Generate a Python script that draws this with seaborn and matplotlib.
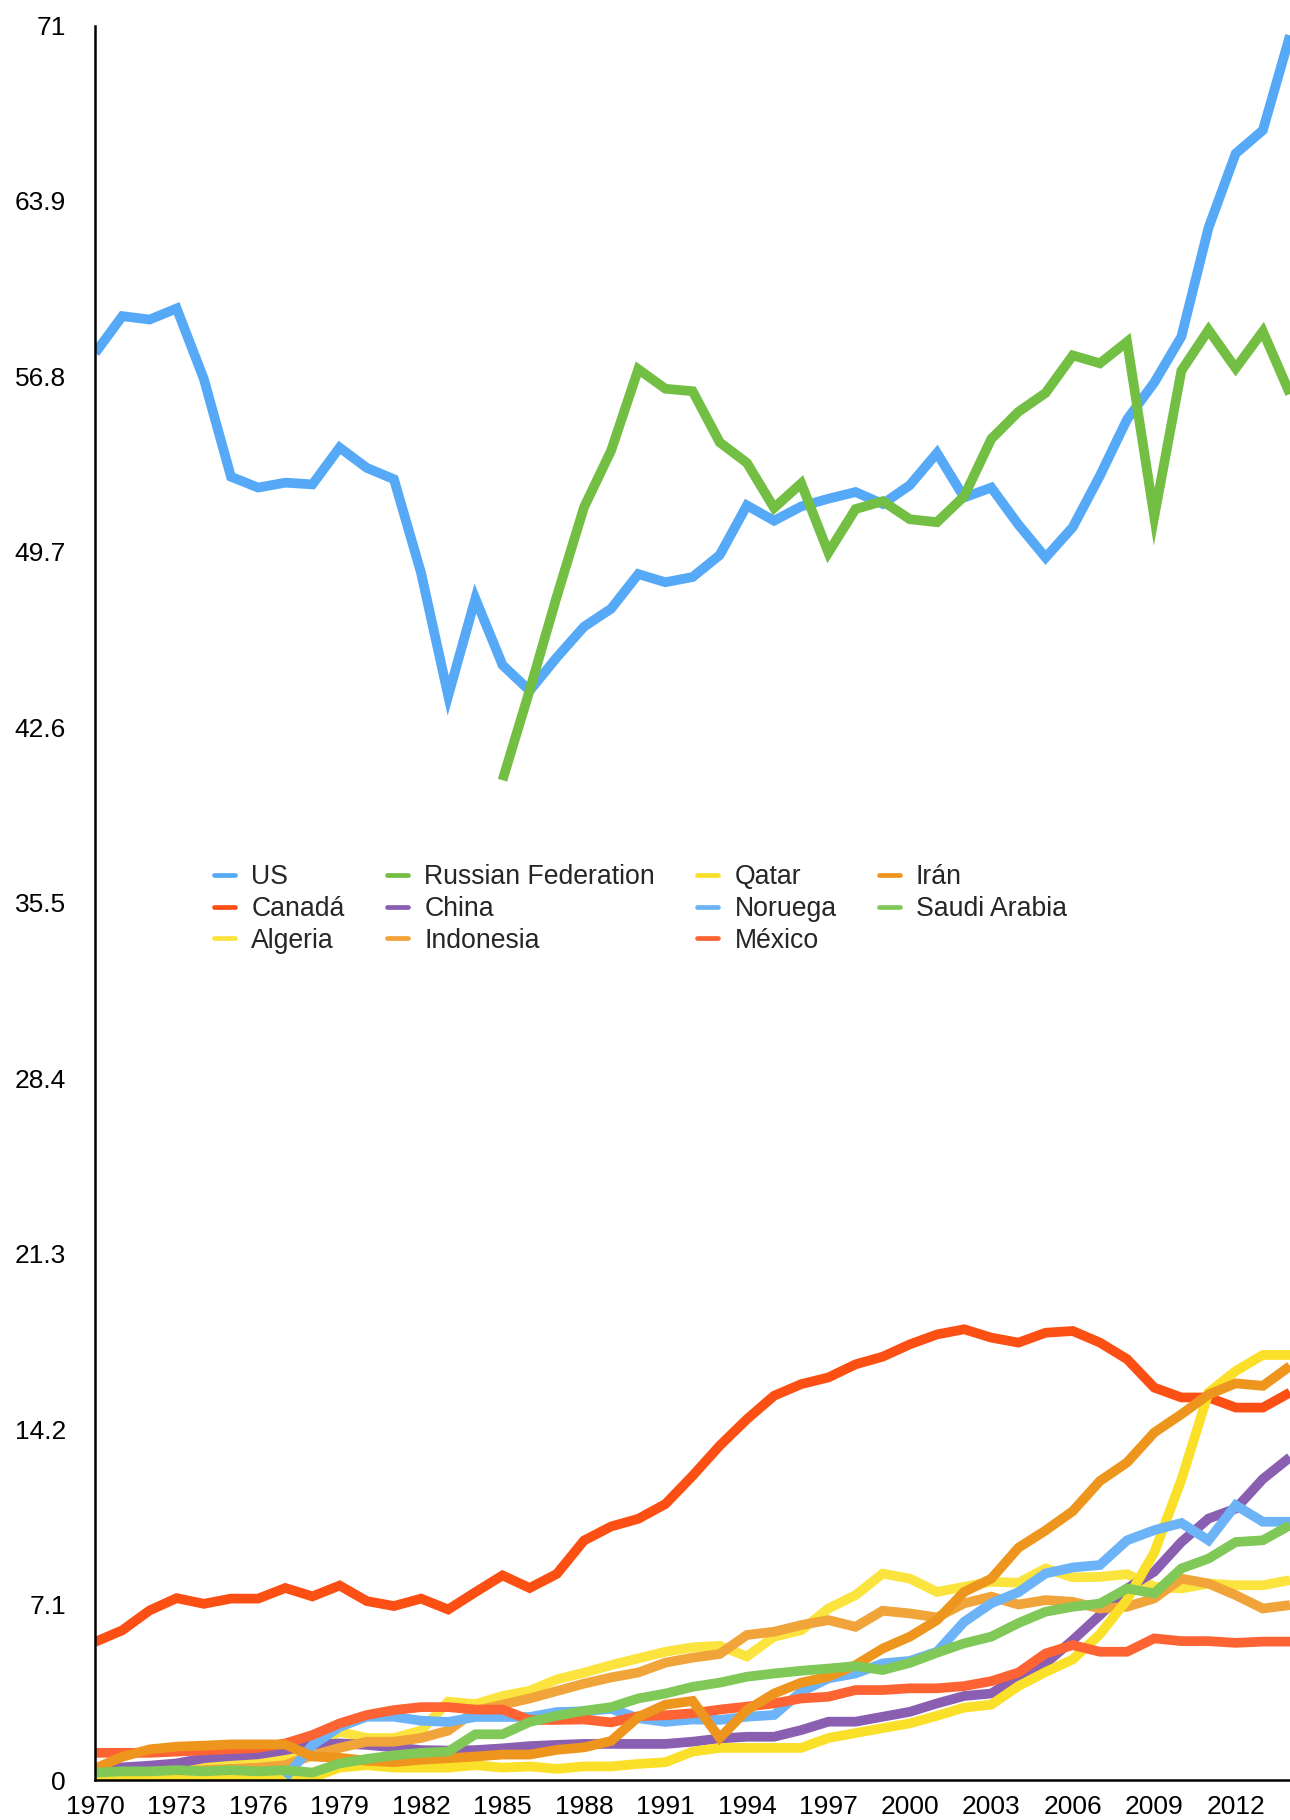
import numpy as np
import pandas as pd
import matplotlib
matplotlib.use("Agg")
import matplotlib.pyplot as plt
from matplotlib.lines import Line2D
import seaborn as sns

years = list(range(1970, 2015))
nan = np.nan

us = [57.75, 59.24, 59.1, 59.55, 56.7, 52.74, 52.3, 52.5, 52.43, 53.92,
      53.1, 52.64, 48.85, 43.88, 47.81, 45.12, 44.08, 45.43, 46.67, 47.4,
      48.8, 48.47, 48.68, 49.57, 51.58, 50.96, 51.54, 51.85, 52.12, 51.64,
      52.4, 53.7, 51.9, 52.3, 50.8, 49.47, 50.7, 52.78, 55.06, 56.55,
      58.41, 62.82, 65.82, 66.76, 70.6]
canada = [5.59, 6.06, 6.86, 7.36, 7.13, 7.34, 7.34, 7.77, 7.43, 7.87,
          7.24, 7.04, 7.34, 6.9, 7.6, 8.28, 7.77, 8.34, 9.69, 10.26,
          10.57, 11.17, 12.31, 13.53, 14.6, 15.55, 16.02, 16.29, 16.82, 17.13,
          17.63, 18.03, 18.24, 17.9, 17.7, 18.1, 18.17, 17.7, 17.03, 15.88,
          15.48, 15.48, 15.07, 15.07, 15.68]
algeria = [0.1, 0.15, 0.3, 0.4, 0.5, 0.6, 0.7, 0.9, 1.4, 1.95,
           1.7, 1.7, 2.0, 3.17, 3.07, 3.4, 3.61, 4.07, 4.34, 4.65,
           4.92, 5.19, 5.37, 5.43, 5.0, 5.8, 6.06, 6.94, 7.48, 8.35,
           8.15, 7.61, 7.82, 8.02, 7.98, 8.56, 8.2, 8.22, 8.33, 7.82,
           7.75, 7.95, 7.88, 7.88, 8.09]
russia = [nan] * 15 + [40.46, 44.1, 47.9, 51.5, 53.8,
                       57.09, 56.3, 56.2, 54.13, 53.3, 51.48, 52.47, 49.67, 51.43, 51.75,
                       51.02, 50.9, 51.95, 54.27, 55.37, 56.13, 57.65, 57.33, 58.2, 51.12,
                       57.03, 58.68, 57.13, 58.62, 56.09]
china = [0.4, 0.51, 0.58, 0.67, 0.88, 0.97, 1.04, 1.21, 1.42, 1.48,
         1.42, 1.32, 1.21, 1.19, 1.21, 1.28, 1.37, 1.42, 1.46, 1.46,
         1.46, 1.46, 1.55, 1.68, 1.75, 1.75, 2.02, 2.36, 2.36, 2.56,
         2.76, 3.1, 3.4, 3.5, 4.2, 4.72, 5.66, 6.67, 7.75, 8.43,
         9.63, 10.58, 10.98, 12.18, 13.06]
indonesia = [0.2, 0.25, 0.3, 0.35, 0.4, 0.45, 0.5, 0.6, 1.0, 1.3,
             1.55, 1.55, 1.7, 2.0, 2.8, 3.05, 3.3, 3.6, 3.9, 4.15,
             4.35, 4.75, 4.95, 5.1, 5.87, 6.0, 6.27, 6.47, 6.2, 6.85,
             6.74, 6.58, 7.15, 7.42, 7.1, 7.28, 7.21, 6.94, 7.01, 7.35,
             8.15, 7.95, 7.48, 6.94, 7.08]
qatar = [0.15, 0.15, 0.15, 0.2, 0.15, 0.2, 0.15, 0.2, 0.1, 0.5,
         0.6, 0.5, 0.5, 0.5, 0.6, 0.5, 0.55, 0.45, 0.55, 0.55,
         0.65, 0.72, 1.15, 1.3, 1.3, 1.3, 1.3, 1.7, 1.9, 2.1,
         2.29, 2.6, 2.93, 3.05, 3.8, 4.37, 4.88, 5.9, 7.3, 9.2,
         12.15, 15.68, 16.55, 17.2, 17.2]
noruega = [nan] * 7 + [0.1, 1.41, 2.15,
                       2.56, 2.56, 2.4, 2.35, 2.55, 2.55, 2.55, 2.75, 2.78, 2.88,
                       2.5, 2.35, 2.45, 2.43, 2.56, 2.63, 3.57, 4.11, 4.31, 4.72,
                       4.82, 5.19, 6.4, 7.15, 7.6, 8.36, 8.6, 8.7, 9.7, 10.11,
                       10.4, 9.7, 11.12, 10.45, 10.45]
mexico = [1.1, 1.1, 1.1, 1.15, 1.2, 1.25, 1.3, 1.48, 1.82, 2.29,
          2.63, 2.83, 2.95, 2.95, 2.85, 2.85, 2.43, 2.43, 2.45, 2.33,
          2.58, 2.62, 2.7, 2.85, 2.97, 3.1, 3.3, 3.37, 3.64, 3.64,
          3.71, 3.71, 3.8, 4.0, 4.35, 5.12, 5.46, 5.19, 5.19, 5.73,
          5.62, 5.62, 5.55, 5.6, 5.6]
iran = [0.47, 0.94, 1.24, 1.35, 1.39, 1.44, 1.44, 1.44, 0.95, 0.9,
        0.78, 0.72, 0.82, 0.88, 0.95, 1.03, 1.03, 1.22, 1.32, 1.58,
        2.55, 3.05, 3.2, 1.7, 2.83, 3.5, 3.94, 4.18, 4.65, 5.32,
        5.8, 6.47, 7.61, 8.15, 9.4, 10.1, 10.88, 12.1, 12.85, 14.06,
        14.8, 15.6, 16.05, 15.95, 16.75]
saudi = [0.3, 0.35, 0.35, 0.4, 0.35, 0.4, 0.35, 0.4, 0.3, 0.67,
         0.85, 1.0, 1.1, 1.15, 1.85, 1.85, 2.35, 2.6, 2.8, 2.95,
         3.3, 3.5, 3.77, 3.94, 4.18, 4.31, 4.42, 4.51, 4.61, 4.45,
         4.74, 5.15, 5.53, 5.8, 6.35, 6.81, 7.01, 7.14, 7.75, 7.55,
         8.56, 8.96, 9.63, 9.7, 10.31]

countries = ["US", "Canadá", "Algeria", "Russian Federation", "China",
             "Indonesia", "Qatar", "Noruega", "México", "Irán", "Saudi Arabia"]
series = [us, canada, algeria, russia, china, indonesia, qatar, noruega,
          mexico, iran, saudi]
colors = ["#55a9f7", "#fc4f13", "#fce43e", "#72bf44", "#8a5eb0",
          "#f0a43a", "#fbe029", "#6cb4f7", "#fd6333", "#ee951d", "#80c857"]

x_ticks = list(range(1970, 2013, 3))
y_ticks = [0, 7.1, 14.2, 21.3, 28.4, 35.5, 42.6, 49.7, 56.8, 63.9, 71]
y_tick_labels = ["0", "7.1", "14.2", "21.3", "28.4", "35.5", "42.6",
                 "49.7", "56.8", "63.9", "71"]

rows = []
for c, vals in zip(countries, series):
    for y, v in zip(years, vals):
        rows.append({"year": y, "value": v, "country": c})
df = pd.DataFrame(rows).dropna()
palette = dict(zip(countries, colors))

sns.set_style("white")
plt.rcParams["font.family"] = ["Liberation Sans", "DejaVu Sans"]

fig = plt.figure(figsize=(12.9, 18.2), dpi=100)
ax = fig.add_axes([95.2 / 1290, 1 - 1780 / 1820, 1 - 95.2 / 1290, (1780 - 25.5) / 1820])

sns.lineplot(data=df, x="year", y="value", hue="country", hue_order=countries,
             palette=palette, linewidth=7.0, estimator=None, errorbar=None,
             legend=False, ax=ax)
for ln in ax.lines:
    ln.set_solid_joinstyle("miter")
    ln.set_solid_capstyle("butt")

ax.set_xlim(1970, 2014)
ax.set_ylim(0, 71)
ax.set_xticks(x_ticks)
ax.set_xticklabels([str(t) for t in x_ticks])
ax.set_yticks(y_ticks)
ax.set_yticklabels(y_tick_labels)
ax.set_xlabel("")
ax.set_ylabel("")
ax.tick_params(axis="both", length=0, labelsize=19, colors="black")
ax.tick_params(axis="y", pad=21)
ax.tick_params(axis="x", pad=11)
for s in ["top", "right"]:
    ax.spines[s].set_visible(False)
for s in ["left", "bottom"]:
    ax.spines[s].set_color("black")
    ax.spines[s].set_linewidth(1.8)
ax.grid(False)

handles = [Line2D([], [], color=palette[c], linewidth=3.4) for c in countries]
leg = fig.legend(handles, countries, ncol=4, loc="upper left",
                 bbox_to_anchor=(214 / 1290, 1 - 864 / 1820),
                 frameon=False, fontsize=19.2, handlelength=0.8,
                 handletextpad=0.6, columnspacing=1.58, labelspacing=0.22,
                 borderpad=0, borderaxespad=0)

fig.savefig("out.png", dpi=100)
